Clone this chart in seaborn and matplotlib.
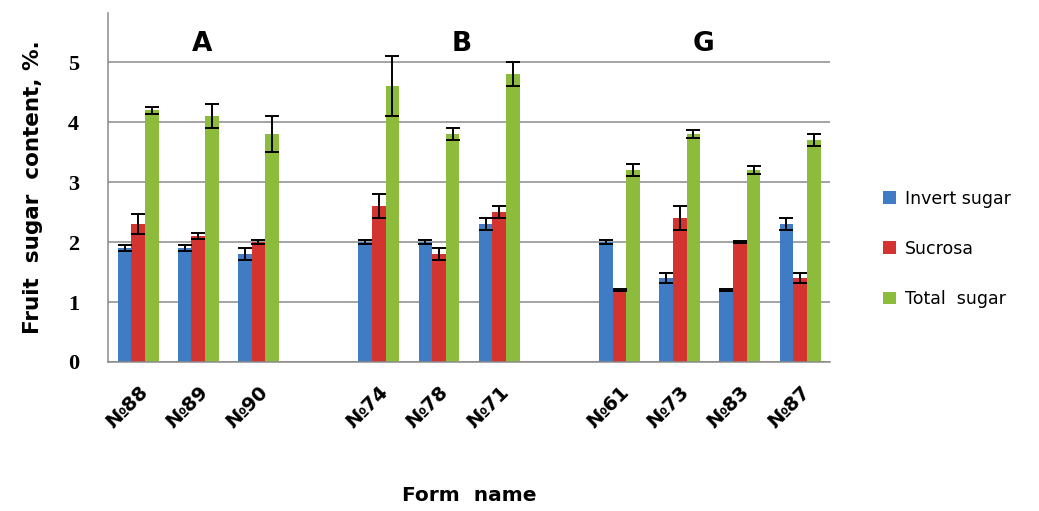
import numpy as np
import pandas as pd
import matplotlib
matplotlib.use("Agg")
import matplotlib.pyplot as plt
import seaborn as sns

# ---- data ----
slots = ["№88", "№89", "№90", "gap1", "№74", "№78", "№71", "gap2", "№61", "№73", "№83", "№87"]
forms = ["№88", "№89", "№90", "№74", "№78", "№71", "№61", "№73", "№83", "№87"]
series = ["Invert sugar", "Sucrosa", "Total  sugar"]
invert = [1.9, 1.9, 1.8, 2.0, 2.0, 2.3, 2.0, 1.4, 1.2, 2.3]
invert_err = [0.05, 0.05, 0.1, 0.03, 0.03, 0.1, 0.03, 0.08, 0.02, 0.1]
sucrosa = [2.3, 2.1, 2.0, 2.6, 1.8, 2.5, 1.2, 2.4, 2.0, 1.4]
sucrosa_err = [0.17, 0.05, 0.04, 0.2, 0.1, 0.1, 0.02, 0.2, 0.02, 0.08]
total = [4.2, 4.1, 3.8, 4.6, 3.8, 4.8, 3.2, 3.8, 3.2, 3.7]
total_err = [0.06, 0.2, 0.3, 0.5, 0.1, 0.2, 0.1, 0.07, 0.07, 0.1]
groups = ["A", "B", "G"]
group_pos = [1.07, 5.37, 9.4]
colors = ["#3f7cc4", "#d3342f", "#8dbb3b"]

rows = []
errs = {}
for s, vals, es in zip(series, [invert, sucrosa, total], [invert_err, sucrosa_err, total_err]):
    for f, v, e in zip(forms, vals, es):
        rows.append({"form": f, "series": s, "value": v})
        errs[(f, s)] = e
df = pd.DataFrame(rows)

sns.set_style("white")
plt.rcParams["text.color"] = "black"
plt.rcParams["axes.labelcolor"] = "black"
plt.rcParams["xtick.color"] = "black"
plt.rcParams["ytick.color"] = "black"
fig = plt.figure(figsize=(10.39, 5.11), dpi=100)
ax = fig.add_axes([0.104, 0.2916, 0.695, 0.683])

sns.barplot(data=df, x="form", y="value", hue="series", order=slots,
            hue_order=series, palette=colors, width=0.68, errorbar=None,
            saturation=1, ax=ax, linewidth=0, legend=True)

# error bars from bar geometry
for cont, s in zip(ax.containers, series):
    for p in cont.patches:
        xc = p.get_x() + p.get_width() / 2
        f = slots[int(round(xc))]
        ax.errorbar(xc, p.get_height(), yerr=errs[(f, s)], fmt="none",
                    ecolor="black", elinewidth=1.4, capsize=5, capthick=1.4, zorder=5)

ax.set_ylim(0, 5.82)
ax.set_xlim(-0.5, 11.5)
ax.set_yticks([0, 1, 2, 3, 4, 5])
ax.yaxis.grid(True, color="#8a8a8a", linewidth=1.1)
ax.set_axisbelow(True)
for sp in ["top", "right"]:
    ax.spines[sp].set_visible(False)
for sp in ["left", "bottom"]:
    ax.spines[sp].set_color("#8a8a8a")
    ax.spines[sp].set_linewidth(1.1)

ax.set_xticks(range(len(slots)))
ax.set_xticklabels([s if not s.startswith("gap") else "" for s in slots],
                   rotation=45, ha="right", rotation_mode="anchor",
                   fontsize=14, fontweight="bold")
ax.tick_params(axis="x", which="major", length=0, pad=15)
ax.set_xticks(np.arange(-0.5, 12, 1), minor=True)
ax.tick_params(axis="x", which="minor", length=6, color="#8a8a8a", direction="out")
ax.tick_params(axis="y", length=7, color="#8a8a8a", direction="out", pad=14)
for lab in ax.get_yticklabels():
    lab.set_fontfamily("Liberation Serif")
    lab.set_fontweight("bold")
    lab.set_fontsize(16)

ax.set_xlabel("Form  name", fontsize=14.5, fontweight="bold")
ax.xaxis.set_label_coords(0.5, -0.355)
ax.set_ylabel("Fruit  sugar  content, %.", fontsize=15.5, fontweight="bold", labelpad=18)

for g, gx in zip(groups, group_pos):
    ax.text(gx, 5.3, g, fontsize=19, fontweight="bold", ha="center", va="center")

handles, labels = ax.get_legend_handles_labels()
ax.legend(handles, labels, loc="center left", bbox_to_anchor=(0.835, 0.513),
          bbox_transform=fig.transFigure, frameon=False, fontsize=12.5,
          handlelength=0.75, handleheight=0.75, handletextpad=0.5, labelspacing=1.85)

fig.savefig("out.png", dpi=100)
